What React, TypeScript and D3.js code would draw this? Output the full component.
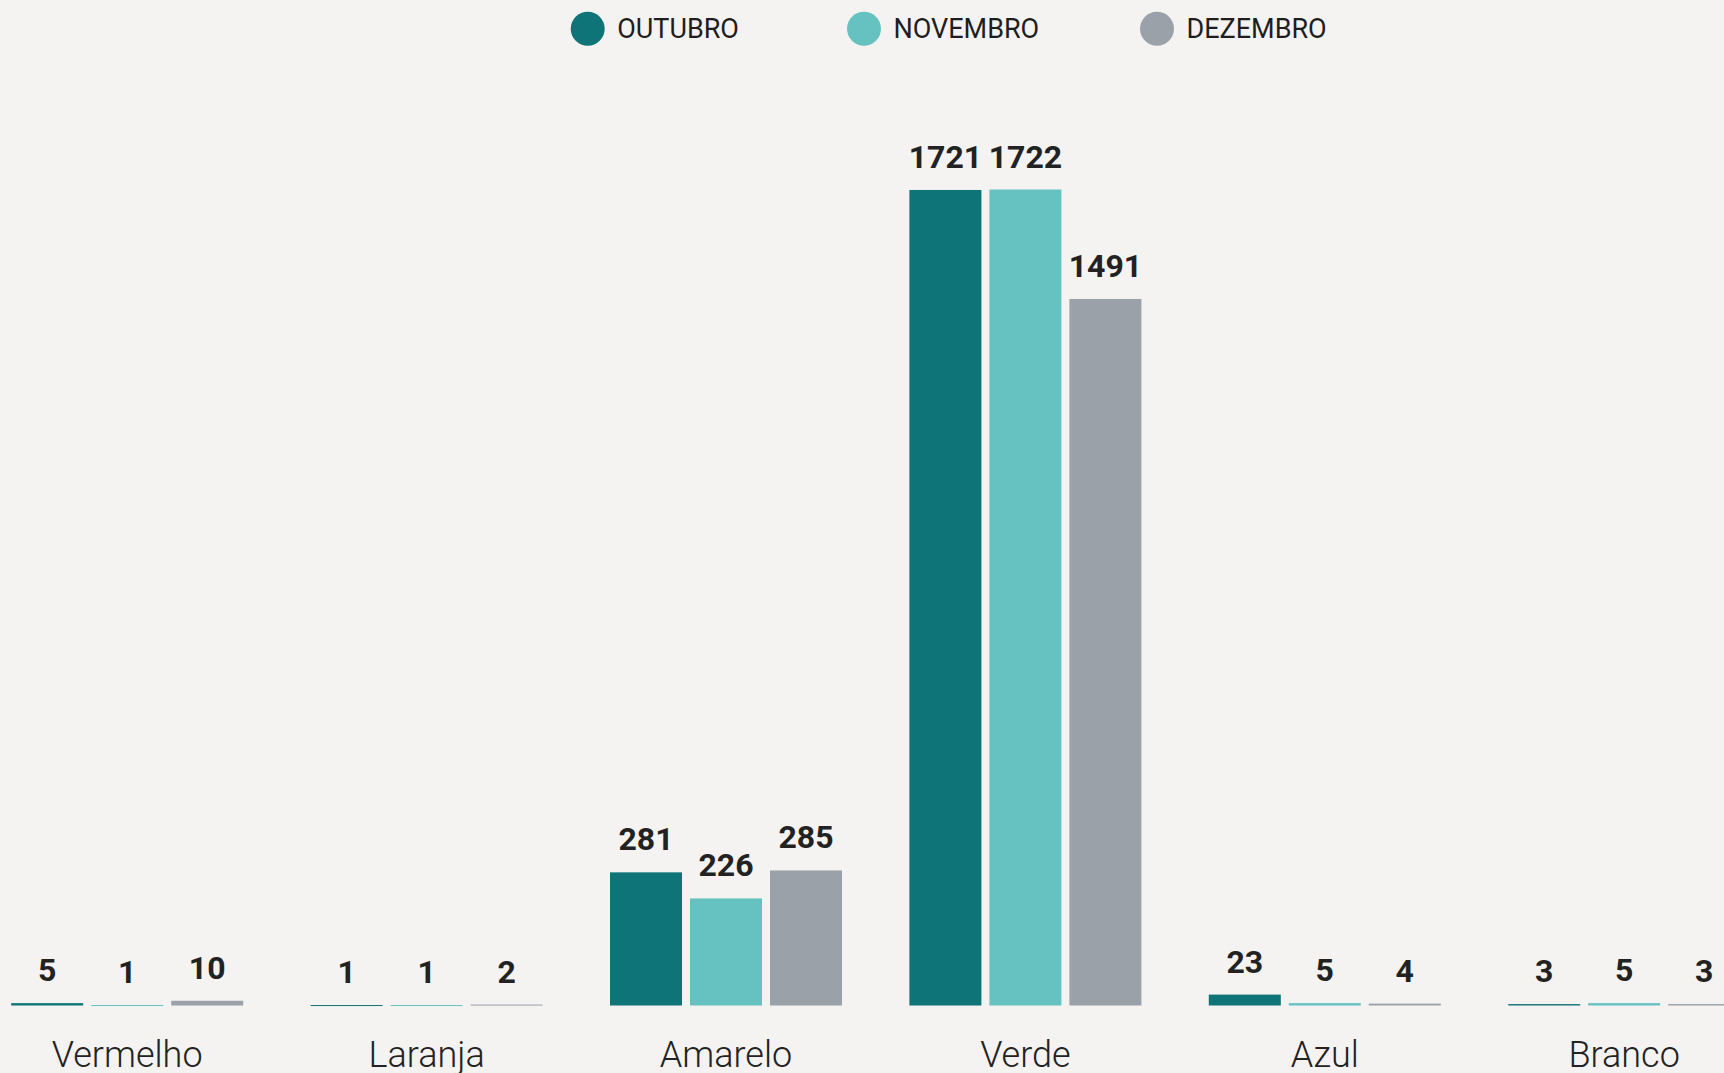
import React, { useEffect, useRef } from "react";
import * as d3 from "d3";

const categories = ["Vermelho", "Laranja", "Amarelo", "Verde", "Azul", "Branco"];
const seriesNames = ["OUTUBRO", "NOVEMBRO", "DEZEMBRO"];
const outubro = [5, 1, 281, 1721, 23, 3];
const novembro = [1, 1, 226, 1722, 5, 5];
const dezembro = [10, 2, 285, 1491, 4, 3];
const seriesColors = ["#0e7477", "#66c2c0", "#9aa1a8"];

const W = 1724;
const H = 1073;
const legendItemX = [570.7, 847, 1140];

export default function App() {
  const ref = useRef<SVGSVGElement | null>(null);

  useEffect(() => {
    const svg = d3.select(ref.current);
    svg.selectAll("*").remove();

    const values = [outubro, novembro, dezembro];
    const data = categories.map((c, i) => ({
      cat: c,
      vals: seriesNames.map((s, j) => ({ s, j, v: values[j][i] })),
    }));

    const step = 299.4;
    const start = -22.5;
    const x0 = d3
      .scaleBand<string>()
      .domain(categories)
      .range([start, start + step * categories.length])
      .padding(0);
    const x1 = d3
      .scaleBand<string>()
      .domain(seriesNames)
      .range([0, x0.bandwidth()])
      .paddingInner(0.1)
      .paddingOuter((step - 232) / 2 / 80);
    const y = d3.scaleLinear().domain([0, 1722]).range([1005.5, 189.5]);

    svg.append("rect").attr("width", W).attr("height", H).attr("fill", "#f4f3f1");

    const g = svg
      .selectAll("g.grp")
      .data(data)
      .enter()
      .append("g")
      .attr("class", "grp")
      .attr("transform", (d) => `translate(${x0(d.cat)},0)`);

    g.selectAll("rect")
      .data((d) => d.vals)
      .enter()
      .append("rect")
      .attr("x", (d) => x1(d.s)!)
      .attr("width", x1.bandwidth())
      .attr("y", (d) => y(d.v))
      .attr("height", (d) => Math.max(1, y(0) - y(d.v)))
      .attr("fill", (d) => seriesColors[d.j]);

    g.selectAll("text.val")
      .data((d) => d.vals)
      .enter()
      .append("text")
      .attr("class", "val")
      .attr("x", (d) => x1(d.s)! + x1.bandwidth() / 2)
      .attr("y", (d) => y(d.v) - 22)
      .attr("text-anchor", "middle")
      .attr("font-family", "Roboto, sans-serif")
      .attr("font-weight", 700)
      .attr("font-size", 32)
      .attr("fill", "#222222")
      .text((d) => String(d.v));

    g.append("text")
      .attr("x", x0.bandwidth() / 2)
      .attr("y", 1066.5)
      .attr("text-anchor", "middle")
      .attr("font-family", "Roboto, sans-serif")
      .attr("font-weight", 300)
      .attr("font-size", 36)
      .attr("fill", "#222222")
      .text((d) => d.cat);

    // legend
    const legend = svg.append("g");
    const cy = 28.7;
    seriesNames.forEach((s, i) => {
      const lx = legendItemX[i];
      legend
        .append("circle")
        .attr("cx", lx + 17)
        .attr("cy", cy)
        .attr("r", 17)
        .attr("fill", seriesColors[i]);
      legend
        .append("text")
        .attr("x", lx + 46.5)
        .attr("y", cy + 9.5)
        .attr("font-family", "Roboto, sans-serif")
        .attr("font-size", 27)
        .attr("fill", "#1e1e1e")
        .text(s);
    });
  }, []);

  return (
    <svg
      ref={ref}
      width={W}
      height={H}
      style={{ position: "absolute", left: 0, top: 0, display: "block" }}
    />
  );
}
